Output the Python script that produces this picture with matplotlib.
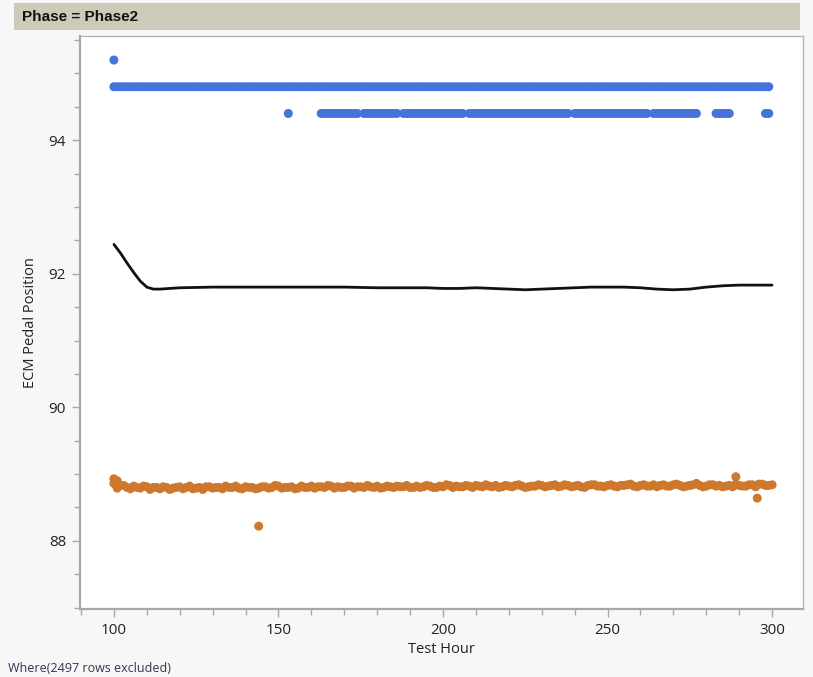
import numpy as np
import matplotlib
matplotlib.use("Agg")
import matplotlib.pyplot as plt
from matplotlib.patches import Rectangle
from matplotlib.ticker import MultipleLocator

# ---------------- data ----------------
title_text = "Phase = Phase2"
x_label = "Test Hour"
y_label = "ECM Pedal Position"
footer_text = "Where(2497 rows excluded)"

# blue group: main level 94.8 recorded every hour from 100 to 299
blue_upper_level = 94.8
blue_upper_start, blue_upper_end = 100, 299
# lower blue level 94.4 appears in runs of hours (start, end)
blue_lower_level = 94.4
blue_lower_runs = [(153, 153), (163, 174), (176, 186), (188, 206), (208, 238),
                   (240, 262), (264, 277), (283, 287), (298, 299)]
blue_outlier_hour = [100]
blue_outlier_value = [95.2]

# orange group: values read at even hours 100..300
orange_hours = list(range(100, 301, 2))
orange_values = [
    88.86, 88.83, 88.80, 88.82, 88.79, 88.81, 88.80, 88.78, 88.80, 88.79,
    88.81, 88.80, 88.78, 88.80, 88.81, 88.79, 88.80, 88.82, 88.80, 88.79,
    88.81, 88.80, 88.79, 88.81, 88.80, 88.82, 88.80, 88.81, 88.79, 88.80,
    88.82, 88.81, 88.80, 88.82, 88.81, 88.80, 88.82, 88.81, 88.80, 88.81,
    88.82, 88.80, 88.81, 88.82, 88.81, 88.80, 88.82, 88.81, 88.82, 88.80,
    88.81, 88.83, 88.82, 88.81, 88.82, 88.83, 88.81, 88.82, 88.83, 88.81,
    88.82, 88.83, 88.82, 88.81, 88.82, 88.83, 88.82, 88.84, 88.82, 88.83,
    88.82, 88.81, 88.83, 88.84, 88.82, 88.83, 88.82, 88.83, 88.84, 88.82,
    88.83, 88.82, 88.84, 88.83, 88.82, 88.84, 88.83, 88.82, 88.84, 88.83,
    88.82, 88.84, 88.83, 88.82, 88.81, 88.83, 88.82, 88.84, 88.85, 88.83,
    88.84,
]
# orange values read at odd hours 101..299
orange_hours_odd = list(range(101, 300, 2))
orange_values_odd = [
    88.79, 88.83, 88.78, 88.80, 88.82, 88.77, 88.80, 88.81, 88.77, 88.80,
    88.78, 88.82, 88.79, 88.77, 88.81, 88.80, 88.78, 88.80, 88.82, 88.78,
    88.80, 88.78, 88.81, 88.79, 88.83, 88.79, 88.80, 88.78, 88.82, 88.80,
    88.79, 88.81, 88.83, 88.79, 88.80, 88.82, 88.79, 88.81, 88.83, 88.80,
    88.79, 88.82, 88.80, 88.81, 88.83, 88.80, 88.80, 88.83, 88.80, 88.82,
    88.84, 88.80, 88.81, 88.83, 88.80, 88.82, 88.84, 88.81, 88.80, 88.83,
    88.81, 88.84, 88.80, 88.82, 88.84, 88.81, 88.83, 88.81, 88.84, 88.81,
    88.83, 88.80, 88.84, 88.82, 88.81, 88.84, 88.81, 88.83, 88.85, 88.81,
    88.84, 88.82, 88.81, 88.84, 88.82, 88.85, 88.81, 88.83, 88.86, 88.81,
    88.84, 88.82, 88.81, 88.83, 88.85, 88.82, 88.84, 88.81, 88.85, 88.83,
]
orange_extra_hour = [100, 101, 289, 144, 295.5]
orange_extra_value = [88.93, 88.90, 88.96, 88.22, 88.64]

# black smoother (hour, value)
smooth_hours = [100, 102, 104, 106, 108, 110, 112, 114, 117, 120, 130, 140,
                150, 160, 170, 180, 190, 195, 200, 205, 210, 215, 220, 225,
                230, 235, 240, 245, 250, 255, 260, 265, 270, 275, 280, 285,
                290, 295, 300]
smooth_values = [92.44, 92.31, 92.16, 92.02, 91.89, 91.80, 91.77, 91.77, 91.78,
                 91.79, 91.80, 91.80, 91.80, 91.80, 91.80, 91.79, 91.79, 91.79,
                 91.78, 91.78, 91.79, 91.78, 91.77, 91.76, 91.77, 91.78, 91.79,
                 91.80, 91.80, 91.80, 91.79, 91.77, 91.76, 91.77, 91.80, 91.82,
                 91.83, 91.83, 91.83]

x_ticks = [100, 150, 200, 250, 300]
y_ticks = [88, 90, 92, 94]

# ---------------- figure ----------------
W, H = 813, 677
fig = plt.figure(figsize=(W / 100, H / 100), dpi=100, facecolor="#f7f7f7")
plt.rcParams["font.family"] = ["Open Sans", "DejaVu Sans"]

# header band
fig.add_artist(Rectangle((14 / W, 1 - 30 / H), (800 - 14) / W, 27 / H,
                         transform=fig.transFigure, facecolor="#cdcab9",
                         edgecolor="none"))
fig.text(22 / W, 1 - 17 / H, title_text, fontsize=11, fontweight="bold",
         va="center", ha="left", color="#111111",
         family=["Liberation Sans", "DejaVu Sans"])

ax = fig.add_axes([80 / W, 1 - 609 / H, (803 - 80) / W, (609 - 36) / H])
ax.set_facecolor("white")

blue = "#4572DB"
orange = "#CD782C"
ms = 42

bu_hours = np.arange(blue_upper_start, blue_upper_end + 0.5, 1.0)
ax.scatter(bu_hours, np.full(len(bu_hours), blue_upper_level), s=ms,
           color=blue, edgecolors="none", zorder=3)
bl_hours = np.concatenate([np.arange(a, b + 0.5, 1.0) for a, b in blue_lower_runs])
ax.scatter(bl_hours, np.full(len(bl_hours), blue_lower_level), s=ms,
           color=blue, edgecolors="none", zorder=3)
ax.scatter(blue_outlier_hour, blue_outlier_value, s=ms, color=blue,
           edgecolors="none", zorder=3)

ax.scatter(orange_hours, orange_values, s=ms, color=orange,
           edgecolors="none", zorder=3)
ax.scatter(orange_hours_odd, orange_values_odd, s=ms, color=orange,
           edgecolors="none", zorder=3)
ax.scatter(orange_extra_hour, orange_extra_value, s=ms, color=orange,
           edgecolors="none", zorder=3)

ax.plot(smooth_hours, smooth_values, color="#111111", lw=2.0, zorder=4,
        solid_capstyle="round")

ax.set_xlim(89.7, 309.4)
ax.set_ylim(86.98, 95.56)
ax.set_xticks(x_ticks)
ax.set_yticks(y_ticks)
ax.xaxis.set_minor_locator(MultipleLocator(10))
ax.yaxis.set_minor_locator(MultipleLocator(0.5))

for side in ["left", "bottom"]:
    ax.spines[side].set_color("#a8a8a8")
    ax.spines[side].set_linewidth(1.6)
for side in ["top", "right"]:
    ax.spines[side].set_color("#b4b4b4")
    ax.spines[side].set_linewidth(1.0)

ax.tick_params(axis="both", which="major", length=6, width=1, color="#a8a8a8",
               labelsize=11, labelcolor="#222222", pad=4)
ax.tick_params(axis="both", which="minor", length=4, width=1, color="#a8a8a8")

ax.set_xlabel(x_label, fontsize=10.5, color="#222222", labelpad=3)
ax.set_ylabel(y_label, fontsize=10.5, color="#222222", labelpad=8)

fig.text(8 / W, 1 - 675 / H, footer_text, fontsize=9, va="bottom", ha="left",
         color="#333355")

fig.savefig("out.png", dpi=100, facecolor=fig.get_facecolor())
